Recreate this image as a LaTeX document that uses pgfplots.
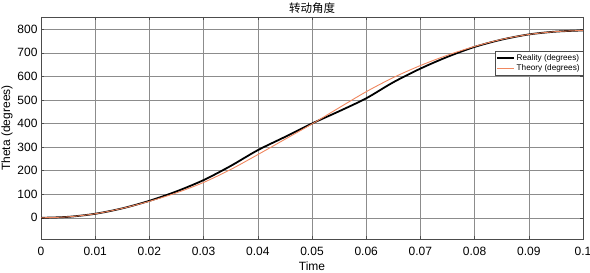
\documentclass[border=0pt]{standalone}
\usepackage{pgfplots}
\pgfplotsset{compat=1.18}
\usepackage{fontspec}
\setmainfont{Liberation Sans}
\newfontfamily\cjk{Noto Sans CJK SC}
\definecolor{theo}{RGB}{240,135,95}
\begin{document}
\begin{tikzpicture}
\begin{axis}[
  scale only axis,
  width=542bp, height=222bp,
  xmin=0, xmax=0.1, ymin=-90, ymax=852,
  xtick={0,0.01,...,0.1},
  xticklabels={0,0.01,0.02,0.03,0.04,0.05,0.06,0.07,0.08,0.09,0.1},
  ytick={0,100,...,800},
  grid=major,
  major grid style={black!45, line width=0.5bp},
  tick style={black!70, line width=0.5bp},
  tick align=inside,
  major tick length=3bp,
  axis line style={black!70, line width=0.6bp},
  /pgf/number format/assume math mode=true,
  tick label style={font=\fontsize{12bp}{13bp}\selectfont},
  xticklabel style={yshift=-5bp},
  xlabel={Time}, ylabel={Theta (degrees)},
  label style={font=\fontsize{12bp}{13bp}\selectfont},
  xlabel style={yshift=1bp},
  ylabel style={yshift=-2bp},
  title={\cjk 转动角度},
  title style={font=\fontsize{11.5bp}{12bp}\selectfont, yshift=-6bp},
  legend style={at={(rel axis cs:1,0.848)}, anchor=north east,
    font=\fontsize{8.2bp}{9bp}\selectfont, draw=black!70, inner sep=1.2bp,
    row sep=-0.5bp},
  legend cell align=left,
]
\addplot[black, line width=1.8bp, smooth] coordinates {
(0,0) (0.005,4) (0.01,17) (0.015,40) (0.02,72) (0.025,112) (0.03,160) (0.035,220) (0.04,287) (0.045,343) (0.05,400) (0.055,452) (0.06,507) (0.065,575) (0.07,633) (0.075,683) (0.08,725) (0.085,756) (0.09,778) (0.095,790) (0.1,795)};
\addlegendentry{Reality (degrees)}
\addplot[theo, line width=0.9bp, smooth] coordinates {
(0,0) (0.005,4) (0.01,17) (0.015,40) (0.02,70) (0.025,106) (0.03,150) (0.035,205) (0.04,268) (0.045,333) (0.05,398) (0.055,467) (0.06,535) (0.065,595) (0.07,646) (0.075,690) (0.08,727) (0.085,757) (0.09,778) (0.095,790) (0.1,795)};
\addlegendentry{Theory (degrees)}
\end{axis}
\pgfresetboundingbox
\path ([shift={(-41bp,-34bp)}]current axis.south west) rectangle ([shift={(7bp,17bp)}]current axis.north east);
\end{tikzpicture}
\end{document}
